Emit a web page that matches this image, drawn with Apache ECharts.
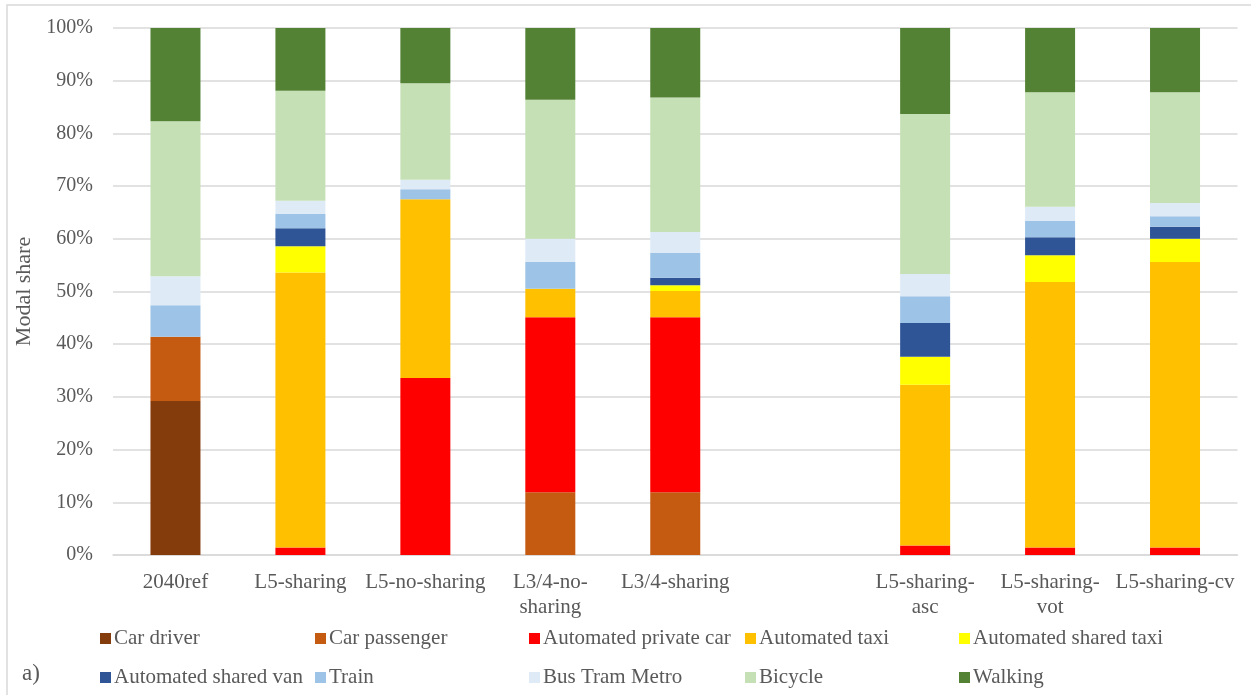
<!DOCTYPE html>
<html>
<head>
<meta charset="utf-8">
<script src="https://cdn.jsdelivr.net/npm/echarts@6/dist/echarts.min.js"></script>
<style>html,body{margin:0;padding:0;background:#fff;}#chart{width:1251px;height:695px;}</style>
</head>
<body>
<div id="chart"></div>
<script>
const categories = ['2040ref', 'L5-sharing', 'L5-no-sharing', 'L3/4-no-\nsharing', 'L3/4-sharing', '', 'L5-sharing-\nasc', 'L5-sharing-\nvot', 'L5-sharing-cv'];
const yTicks = [0, 10, 20, 30, 40, 50, 60, 70, 80, 90, 100];

const carDriver        = [29.2, 0, 0, 0, 0, null, 0, 0, 0];
const carPassenger     = [12.2, 0, 0, 11.9, 11.9, null, 0, 0, 0];
const autoPrivateCar   = [0, 1.4, 33.6, 33.2, 33.2, null, 1.8, 1.4, 1.4];
const autoTaxi         = [0, 52.2, 33.9, 5.4, 5.0, null, 30.5, 50.4, 54.2];
const autoSharedTaxi   = [0, 5.0, 0, 0, 1.1, null, 5.3, 5.1, 4.4];
const autoSharedVan    = [0, 3.4, 0, 0, 1.4, null, 6.4, 3.4, 2.3];
const train            = [6.0, 2.7, 1.9, 5.1, 4.7, null, 5.1, 3.1, 2.0];
const busTramMetro     = [5.5, 2.5, 1.8, 4.4, 4.0, null, 4.2, 2.7, 2.5];
const bicycle          = [29.4, 20.9, 18.3, 26.4, 25.5, null, 30.4, 21.7, 21.0];
const walking          = [17.7, 11.9, 10.5, 13.7, 13.3, null, 16.3, 12.2, 12.2];

const seriesNames = ['Car driver', 'Car passenger', 'Automated private car', 'Automated taxi', 'Automated shared taxi',
  'Automated shared van', 'Train', 'Bus Tram Metro', 'Bicycle', 'Walking'];
const seriesData = [carDriver, carPassenger, autoPrivateCar, autoTaxi, autoSharedTaxi,
  autoSharedVan, train, busTramMetro, bicycle, walking];
const colors = ['#843C0C', '#C55A11', '#FF0000', '#FFC000', '#FFFF00',
  '#2F5597', '#9DC3E6', '#DEEBF7', '#C5E0B4', '#548235'];

const FONT = 'Liberation Serif';
const TXT = '#595959';

const legendCols = [100, 315, 529, 745, 959];
const legendRows = [628, 667];
const legends = seriesNames.map((n, i) => ({
  data: [n],
  left: legendCols[i % 5],
  top: legendRows[Math.floor(i / 5)],
  padding: 0,
  icon: 'rect',
  itemWidth: 11,
  itemHeight: 11,
  selectedMode: false,
  textStyle: { fontFamily: FONT, fontSize: 21, color: TXT, padding: [0, 0, 0, -2] }
}));

const chart = echarts.init(document.getElementById('chart'), null, { renderer: 'canvas' });
chart.setOption({
  animation: false,
  backgroundColor: '#fff',
  color: colors,
  grid: { left: 113, right: 13.5, top: 28, bottom: 140, containLabel: false },
  legend: legends,
  graphic: [
    { type: 'rect', shape: { x: 7, y: 5, width: 1400, height: 900 }, style: { fill: 'none', stroke: '#d9d9d9', lineWidth: 1.5 }, silent: true },
    { type: 'text', left: 22, top: 662, style: { text: 'a)', font: '23px "Liberation Serif"', fill: TXT } }
  ],
  xAxis: {
    type: 'category',
    data: categories,
    axisLine: { show: true, lineStyle: { color: '#d9d9d9', width: 1.5 } },
    axisTick: { show: false },
    axisLabel: { interval: 0, fontFamily: FONT, fontSize: 21, color: TXT, margin: 15, lineHeight: 25 }
  },
  yAxis: {
    type: 'value',
    min: 0, max: 100, interval: 10,
    name: 'Modal share',
    nameLocation: 'middle',
    nameGap: 76,
    nameRotate: 90,
    nameTextStyle: { fontFamily: FONT, fontSize: 22, color: TXT },
    axisLine: { show: false },
    axisTick: { show: false },
    splitLine: { lineStyle: { color: '#d9d9d9', width: 1.5 } },
    axisLabel: {
      fontFamily: FONT, fontSize: 20, color: TXT, margin: 20,
      formatter: v => (yTicks.indexOf(v) >= 0 ? v + '%' : '')
    }
  },
  series: seriesNames.map((n, i) => ({
    name: n,
    type: 'bar',
    stack: 'total',
    barWidth: 50,
    data: seriesData[i],
    itemStyle: { color: colors[i] }
  }))
});
</script>
</body>
</html>
